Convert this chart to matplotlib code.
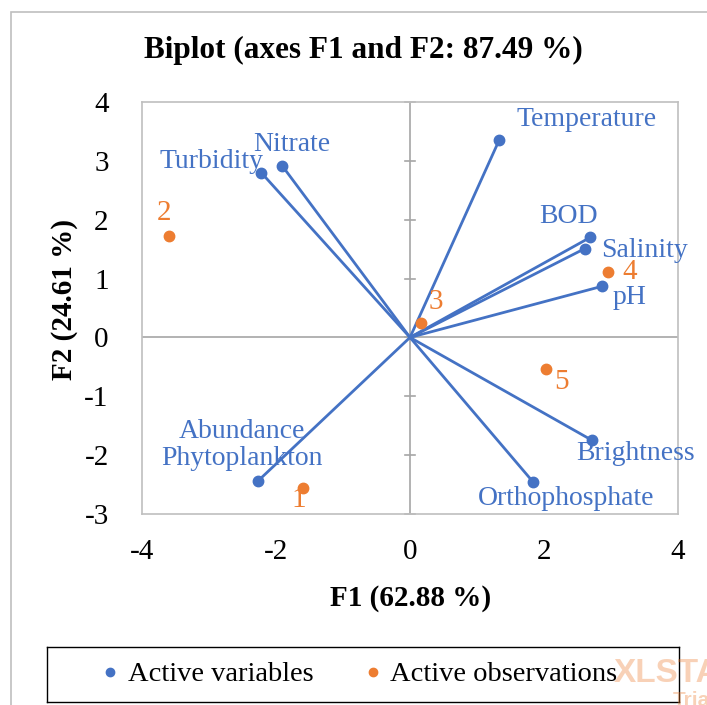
import matplotlib
matplotlib.use("Agg")
import matplotlib.pyplot as plt
from matplotlib.patches import Rectangle

plt.rcParams['font.family'] = ['Liberation Serif', 'DejaVu Serif']

# ---- data ----
var_names = ["Temperature", "BOD", "Salinity", "pH", "Brightness",
             "Orthophosphate", "Abundance\nPhytoplankton", "Turbidity", "Nitrate"]
var_f1 = [1.33, 2.69, 2.61, 2.87, 2.72, 1.84, -2.27, -2.22, -1.91]
var_f2 = [3.35, 1.70, 1.51, 0.87, -1.75, -2.46, -2.44, 2.80, 2.92]

obs_names = ["1", "2", "3", "4", "5"]
obs_f1 = [-1.60, -3.60, 0.16, 2.96, 2.03]
obs_f2 = [-2.55, 1.73, 0.24, 1.12, -0.54]

x_ticks = [-4, -2, 0, 2, 4]
y_ticks = [-3, -2, -1, 0, 1, 2, 3, 4]

title = "Biplot (axes F1 and F2: 87.49 %)"
x_label = "F1 (62.88 %)"
y_label = "F2 (24.61 %)"

BLUE = "#4472C4"
ORANGE = "#ED7D31"
GRID = "#A6A6A6"

W, H = 707, 705
fig = plt.figure(figsize=(W / 100, H / 100), dpi=100)

# outer chart border
fig.patches.append(Rectangle((11 / W, -0.1), 1.2, 1 - 12 / H + 0.1,
                             transform=fig.transFigure, fill=False,
                             edgecolor="#BFBFBF", linewidth=1.2))

# plot area in pixels: left 142, right 678, top 102, bottom 514
ax = fig.add_axes([142 / W, 1 - 514 / H, (678 - 142) / W, (514 - 102) / H])
ax.set_xlim(-4, 4)
ax.set_ylim(-3, 4)
for s in ax.spines.values():
    s.set_color("#BFBFBF")
    s.set_linewidth(1.2)

ax.axhline(0, color=GRID, lw=1.2, zorder=1)
ax.axvline(0, color=GRID, lw=1.2, zorder=1)
for yt in y_ticks:
    ax.plot([-0.07, 0.07], [yt, yt], color=GRID, lw=1.2, zorder=1, clip_on=False)

ax.set_xticks(x_ticks)
ax.set_yticks(y_ticks)
ax.set_xticklabels([str(v) for v in x_ticks])
ax.set_yticklabels([str(v) for v in y_ticks])
ax.tick_params(length=0, labelsize=21)
ax.tick_params(axis='x', pad=18)
ax.tick_params(axis='y', pad=24)

# variables
for n, x, y in zip(var_names, var_f1, var_f2):
    ax.plot([0, x], [0, y], color=BLUE, lw=2.0, zorder=3)
ax.plot(var_f1, var_f2, 'o', color=BLUE, ms=7.5, zorder=4)

# observations
ax.plot(obs_f1, obs_f2, 'o', color=ORANGE, ms=7.5, zorder=4)

# label offsets in pixels (right, down) from the marker
var_offsets = {
    "Temperature": (87, -21),
    "BOD": (-22, -21),
    "Salinity": (60, 2),
    "pH": (27, 11),
    "Brightness": (43, 13),
    "Orthophosphate": (33, 16),
    "Abundance\nPhytoplankton": (-16, -36),
    "Turbidity": (-50, -11),
    "Nitrate": (10, -21),
}
for n, x, y in zip(var_names, var_f1, var_f2):
    dx, dy = var_offsets[n]
    ax.annotate(n, (x, y), xytext=(dx * 0.72, -dy * 0.72), textcoords='offset points',
                ha='center', va='center', color=BLUE, fontsize=20, linespacing=1.1,
                zorder=5)

obs_offsets = {"1": (-4, 12), "2": (-5, -23), "3": (15, -21), "4": (21, 0), "5": (15, 13)}
for n, x, y in zip(obs_names, obs_f1, obs_f2):
    dx, dy = obs_offsets[n]
    ax.annotate(n, (x, y), xytext=(dx * 0.72, -dy * 0.72), textcoords='offset points',
                ha='center', va='center', color=ORANGE, fontsize=21, zorder=5)

fig.text(363 / W, 1 - 50 / H, title, ha='center', va='center',
         fontsize=22.5, fontweight='bold')
fig.text(411 / W, 1 - 598 / H, x_label, ha='center', va='center',
         fontsize=21, fontweight='bold')
fig.text(65 / W, 1 - 300 / H, y_label, ha='center', va='center',
         fontsize=21, fontweight='bold', rotation=90)

# watermark (cut off at the edge, as in the reference)
fig.text(614 / W, 1 - 673 / H, "XLSTAT", ha='left', va='center', fontsize=24,
         fontweight='bold', color=ORANGE, alpha=0.35, family='Liberation Sans')
fig.text(673 / W, 1 - 700 / H, "Trial", ha='left', va='center', fontsize=15,
         fontweight='bold', color=ORANGE, alpha=0.35, family='Liberation Sans')

# legend box
lax = fig.add_axes([47 / W, 1 - 702 / H, (679 - 47) / W, (702 - 647) / H])
lax.set_xticks([]); lax.set_yticks([])
lax.set_xlim(0, 1); lax.set_ylim(0, 1)
lax.patch.set_alpha(0)
for s in lax.spines.values():
    s.set_color("black"); s.set_linewidth(1.0)
h1, = lax.plot([], [], 'o', color=BLUE, ms=6)
h2, = lax.plot([], [], 'o', color=ORANGE, ms=6)
lax.legend([h1, h2], ["Active variables", "Active observations"], loc='center',
           bbox_to_anchor=(0.49, 0.5),
           ncol=2, frameon=False, fontsize=20.5, handletextpad=0.1,
           columnspacing=1.6, handlelength=1.0, borderaxespad=0)

fig.savefig("out.png", dpi=100)
